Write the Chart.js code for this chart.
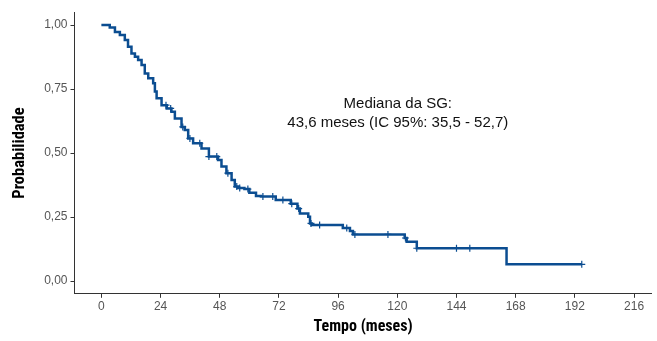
<!DOCTYPE html>
<html>
<head>
<meta charset="utf-8">
<script src="https://cdn.jsdelivr.net/npm/chart.js@4"></script>
<style>
  html, body { margin: 0; padding: 0; background: #fff; }
  #wrap { width: 657px; height: 341px; position: relative; }
</style>
</head>
<body>
<div id="wrap"><canvas id="c"></canvas></div>
<script>
// ---- data ----
const kmTimes = [0, 3.4, 5.5, 7.5, 9.5, 10.8, 12.2, 13.6, 14.9, 16.3, 17.6, 19.0, 21.0, 21.7, 22.4, 24.4, 26.5, 28.4, 29.8, 32.5, 33.8, 35.2, 37.2, 40.6, 43.6, 47.3, 48.7, 50.7, 52.8, 54.1, 55.5, 58.0, 60.0, 62.7, 64.7, 70.7, 76.8, 79.5, 80.5, 83.9, 84.6, 85.3, 97.9, 100.8, 102.0, 123.0, 123.8, 127.9, 164.3, 194.8];
const kmSurv  = [1.000, 0.990, 0.973, 0.961, 0.941, 0.915, 0.889, 0.876, 0.863, 0.844, 0.811, 0.792, 0.772, 0.740, 0.714, 0.687, 0.674, 0.661, 0.635, 0.602, 0.590, 0.557, 0.538, 0.518, 0.486, 0.473, 0.447, 0.421, 0.395, 0.369, 0.363, 0.359, 0.345, 0.332, 0.330, 0.316, 0.302, 0.283, 0.264, 0.251, 0.225, 0.219, 0.207, 0.195, 0.182, 0.168, 0.153, 0.128, 0.065, 0.065];
const censorTimes = [26.2, 28.1, 33.0, 35.9, 39.9, 43.6, 46.8, 51.3, 54.9, 56.1, 59.4, 65.5, 69.5, 73.6, 77.2, 80.0, 85.0, 88.5, 99.5, 102.8, 116.2, 123.3, 127.9, 144.0, 149.4, 194.8];
const xTicks = [0, 24, 48, 72, 96, 120, 144, 168, 192, 216];
const yTicks = [0, 0.25, 0.5, 0.75, 1.0];
const xTitle = 'Tempo (meses)';
const yTitle = 'Probabilidade';
const noteLines = ['Mediana da SG:', '43,6 meses (IC 95%: 35,5 - 52,7)'];
const noteX = 120.2;
const noteY = [0.676, 0.600];

// ---- helpers ----
function survAt(t) {
  let s = kmSurv[0];
  for (let i = 0; i < kmTimes.length; i++) { if (kmTimes[i] <= t) s = kmSurv[i]; }
  return s;
}
const kmPoints = kmTimes.map((t, i) => ({ x: t, y: kmSurv[i] }));
const censorPoints = censorTimes.map(t => ({ x: t, y: survAt(t) }));

const NARROW = '"Liberation Sans Narrow", "Arial Narrow", "Roboto Condensed", "DejaVu Sans Condensed", sans-serif';
const SANS = '"Liberation Sans", Arial, sans-serif';
const BLUE = '#0b4d91';
const fmt = v => v.toFixed(2).replace('.', ',');

const notePlugin = {
  id: 'note',
  afterDatasetsDraw(chart) {
    const { ctx, scales: { x, y } } = chart;
    ctx.save();
    ctx.font = '15px ' + SANS;
    ctx.fillStyle = '#111';
    ctx.textAlign = 'center';
    ctx.textBaseline = 'alphabetic';
    noteLines.forEach((txt, i) => {
      ctx.fillText(txt, x.getPixelForValue(noteX), y.getPixelForValue(noteY[i]));
    });
    ctx.restore();
  }
};

new Chart(document.getElementById('c'), {
  type: 'scatter',
  data: {
    datasets: [
      {
        data: kmPoints,
        showLine: true,
        stepped: 'before',
        borderColor: BLUE,
        borderWidth: 2.5,
        pointRadius: 0,
        fill: false
      },
      {
        data: censorPoints,
        showLine: false,
        pointStyle: 'cross',
        pointRadius: 3.5,
        pointBorderWidth: 1.2,
        pointBorderColor: BLUE,
        pointBackgroundColor: BLUE
      }
    ]
  },
  options: {
    responsive: true,
    maintainAspectRatio: false,
    animation: false,
    layout: { padding: { top: 12.2, right: 0, left: 0, bottom: 0 } },
    plugins: { legend: { display: false }, tooltip: { enabled: false } },
    scales: {
      x: {
        type: 'linear',
        min: -10.9,
        max: 223.2,
        afterBuildTicks: s => { s.ticks = xTicks.map(v => ({ value: v })); },
        afterFit: s => { s.height = 47.2; s.paddingLeft = 0; s.paddingRight = 0; },
        grid: { drawOnChartArea: false, drawTicks: true, tickLength: 4, color: '#333', lineWidth: 1 },
        border: { display: true, color: '#333', width: 1 },
        ticks: { color: '#555', font: { family: SANS, size: 12 }, padding: 2, maxRotation: 0, callback: v => String(v) },
        title: { display: true, text: xTitle, color: '#000', font: { family: NARROW, size: 16, weight: 'bold', lineHeight: 1.2 }, padding: { top: 0, bottom: 4 } }
      },
      y: {
        type: 'linear',
        min: -0.05,
        max: 1.05,
        afterBuildTicks: s => { s.ticks = yTicks.map(v => ({ value: v })); },
        afterFit: s => { s.width = 74.5; },
        grid: { drawOnChartArea: false, drawTicks: true, tickLength: 4, color: '#333', lineWidth: 1 },
        border: { display: true, color: '#333', width: 1 },
        ticks: { color: '#555', font: { family: SANS, size: 12 }, padding: 3, callback: v => fmt(v) },
        title: { display: true, text: yTitle, color: '#000', font: { family: NARROW, size: 16.5, weight: 'bold', lineHeight: 1.2 }, padding: { top: 10.4, bottom: 0 } }
      }
    }
  },
  plugins: [notePlugin]
});
</script>
</body>
</html>
